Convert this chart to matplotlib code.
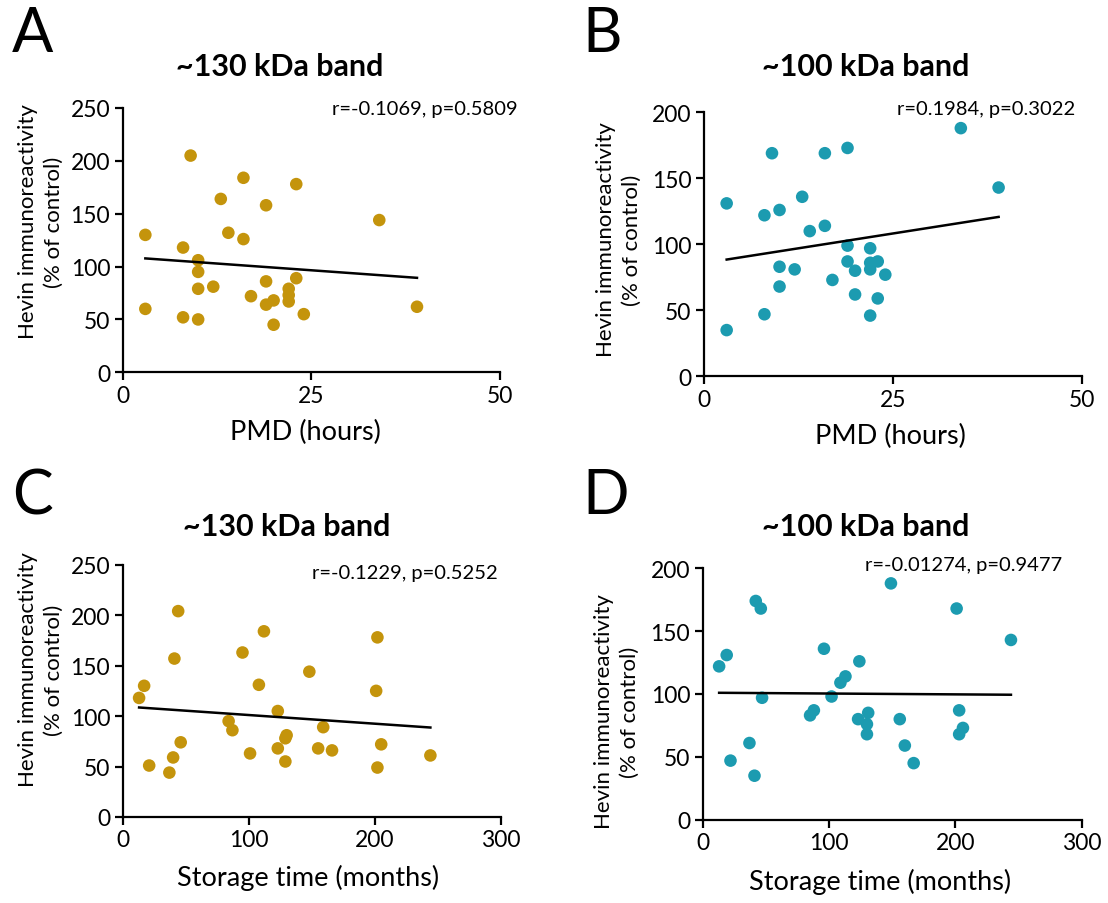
import numpy as np
import matplotlib
matplotlib.use("Agg")
import matplotlib.pyplot as plt

plt.rcParams['font.family'] = ['Lato', 'DejaVu Sans']

# ---------------- data ----------------
pmd_130 = [3, 3, 9, 8, 8, 10, 10, 10, 10, 12, 13, 14, 16, 16, 17, 19, 19, 19,
           20, 20, 22, 22, 22, 23, 23, 24, 34, 39]
hev_130_pmd = [130, 60, 205, 118, 52, 106, 95, 79, 50, 81, 164, 132, 184, 126, 72,
               158, 86, 64, 68, 45, 79, 73, 67, 178, 89, 55, 144, 62]

pmd_100 = [3, 3, 9, 8, 8, 10, 10, 10, 12, 13, 14, 16, 16, 17, 19, 19, 19, 20,
           20, 22, 22, 22, 22, 23, 23, 24, 34, 39]
hev_100_pmd = [131, 35, 169, 122, 47, 126, 83, 68, 81, 136, 110, 169, 114, 73,
               173, 99, 87, 80, 62, 97, 86, 81, 46, 87, 59, 77, 188, 143]

stor_130 = [13, 17, 21, 37, 40, 41, 44, 46, 84, 87, 95, 101, 108, 112, 123, 123,
            129, 130, 129, 148, 155, 159, 166, 202, 201, 205, 202, 244]
hev_130_stor = [118, 130, 51, 44, 59, 157, 204, 74, 95, 86, 163, 63, 131, 184, 105,
                68, 55, 81, 78, 144, 68, 89, 66, 178, 125, 72, 49, 61]

stor_100 = [13, 19, 22, 37, 41, 42, 46, 47, 85, 88, 96, 102, 109, 113, 124, 123,
            130, 131, 130, 149, 156, 160, 167, 201, 203, 203, 206, 244]
hev_100_stor = [122, 131, 47, 61, 35, 174, 168, 97, 83, 87, 136, 98, 109, 114, 126,
                80, 68, 85, 76, 188, 80, 59, 45, 168, 87, 68, 73, 143]

titles = ["~130 kDa band", "~100 kDa band", "~130 kDa band", "~100 kDa band"]
letters = ["A", "B", "C", "D"]
stats = ["r=-0.1069, p=0.5809", "r=0.1984, p=0.3022",
         "r=-0.1229, p=0.5252", "r=-0.01274, p=0.9477"]
xlabels = ["PMD (hours)", "PMD (hours)", "Storage time (months)", "Storage time (months)"]
ylabel = "Hevin immunoreactivity\n(% of control)"

GOLD = "#C4940C"
TEAL = "#1C9BB0"

W, H = 1108, 904
fig = plt.figure(figsize=(W / 100, H / 100), dpi=100)
fig.patch.set_facecolor("white")


def add_ax(l, r, t, b):
    return fig.add_axes([l / W, 1 - b / H, (r - l) / W, (b - t) / H])


panels = [
    dict(box=(122.7, 500, 109, 373.3), x=pmd_130, y=hev_130_pmd, col=GOLD,
         xlim=(0, 50), xt=[0, 25, 50], ylim=(0, 250), yt=[0, 50, 100, 150, 200, 250],
         letter=(12, 35), title=(280, 67), stat=(518, 110), yl=(41, 222), xl=(305, 432)),
    dict(box=(704, 1081.7, 113.3, 377.3), x=pmd_100, y=hev_100_pmd, col=TEAL,
         xlim=(0, 50), xt=[0, 25, 50], ylim=(0, 200), yt=[0, 50, 100, 150, 200],
         letter=(582, 35), title=(866, 67), stat=(1075, 110), yl=(619, 240), xl=(890, 436)),
    dict(box=(122.7, 501, 565.7, 818), x=stor_130, y=hev_130_stor, col=GOLD,
         xlim=(0, 300), xt=[0, 100, 200, 300], ylim=(0, 250), yt=[0, 50, 100, 150, 200, 250],
         letter=(12, 497), title=(287, 527), stat=(498, 573), yl=(41, 670), xl=(308, 878)),
    dict(box=(702.7, 1081.7, 569.3, 820.7), x=stor_100, y=hev_100_stor, col=TEAL,
         xlim=(0, 300), xt=[0, 100, 200, 300], ylim=(0, 200), yt=[0, 50, 100, 150, 200],
         letter=(582, 497), title=(866, 527), stat=(1062, 565), yl=(617, 712), xl=(880, 882)),
]

for i, p in enumerate(panels):
    l, r, t, b = p["box"]
    ax = add_ax(l, r, t, b)
    x = np.array(p["x"], float)
    y = np.array(p["y"], float)
    ax.scatter(x, y, s=82, color=p["col"], edgecolors="none", zorder=3, clip_on=False)
    k, c = np.polyfit(x, y, 1)
    xx = np.array([x.min(), x.max()])
    ax.plot(xx, k * xx + c, color="black", lw=1.8, zorder=4)
    ax.set_xlim(*p["xlim"])
    ax.set_ylim(*p["ylim"])
    ax.set_xticks(p["xt"])
    ax.set_yticks(p["yt"])
    for s in ["top", "right"]:
        ax.spines[s].set_visible(False)
    for s in ["left", "bottom"]:
        ax.spines[s].set_linewidth(1.6)
    ax.tick_params(direction="out", length=6, width=1.6, labelsize=16.5, pad=3)
    ax.set_facecolor("none")

    fig.text(p["letter"][0] / W, 1 - p["letter"][1] / H, letters[i], fontsize=44,
             ha="left", va="center")
    fig.text(p["title"][0] / W, 1 - p["title"][1] / H, titles[i], fontsize=22,
             fontweight="bold", ha="center", va="center")
    fig.text(p["stat"][0] / W, 1 - p["stat"][1] / H, stats[i], fontsize=14.5,
             ha="right", va="center")
    fig.text(p["yl"][0] / W, 1 - p["yl"][1] / H, ylabel, fontsize=16, rotation=90,
             ha="center", va="center", multialignment="center", linespacing=1.35)
    fig.text(p["xl"][0] / W, 1 - p["xl"][1] / H, xlabels[i], fontsize=19.5,
             ha="center", va="center")

fig.savefig("out.png", dpi=100, facecolor="white")
